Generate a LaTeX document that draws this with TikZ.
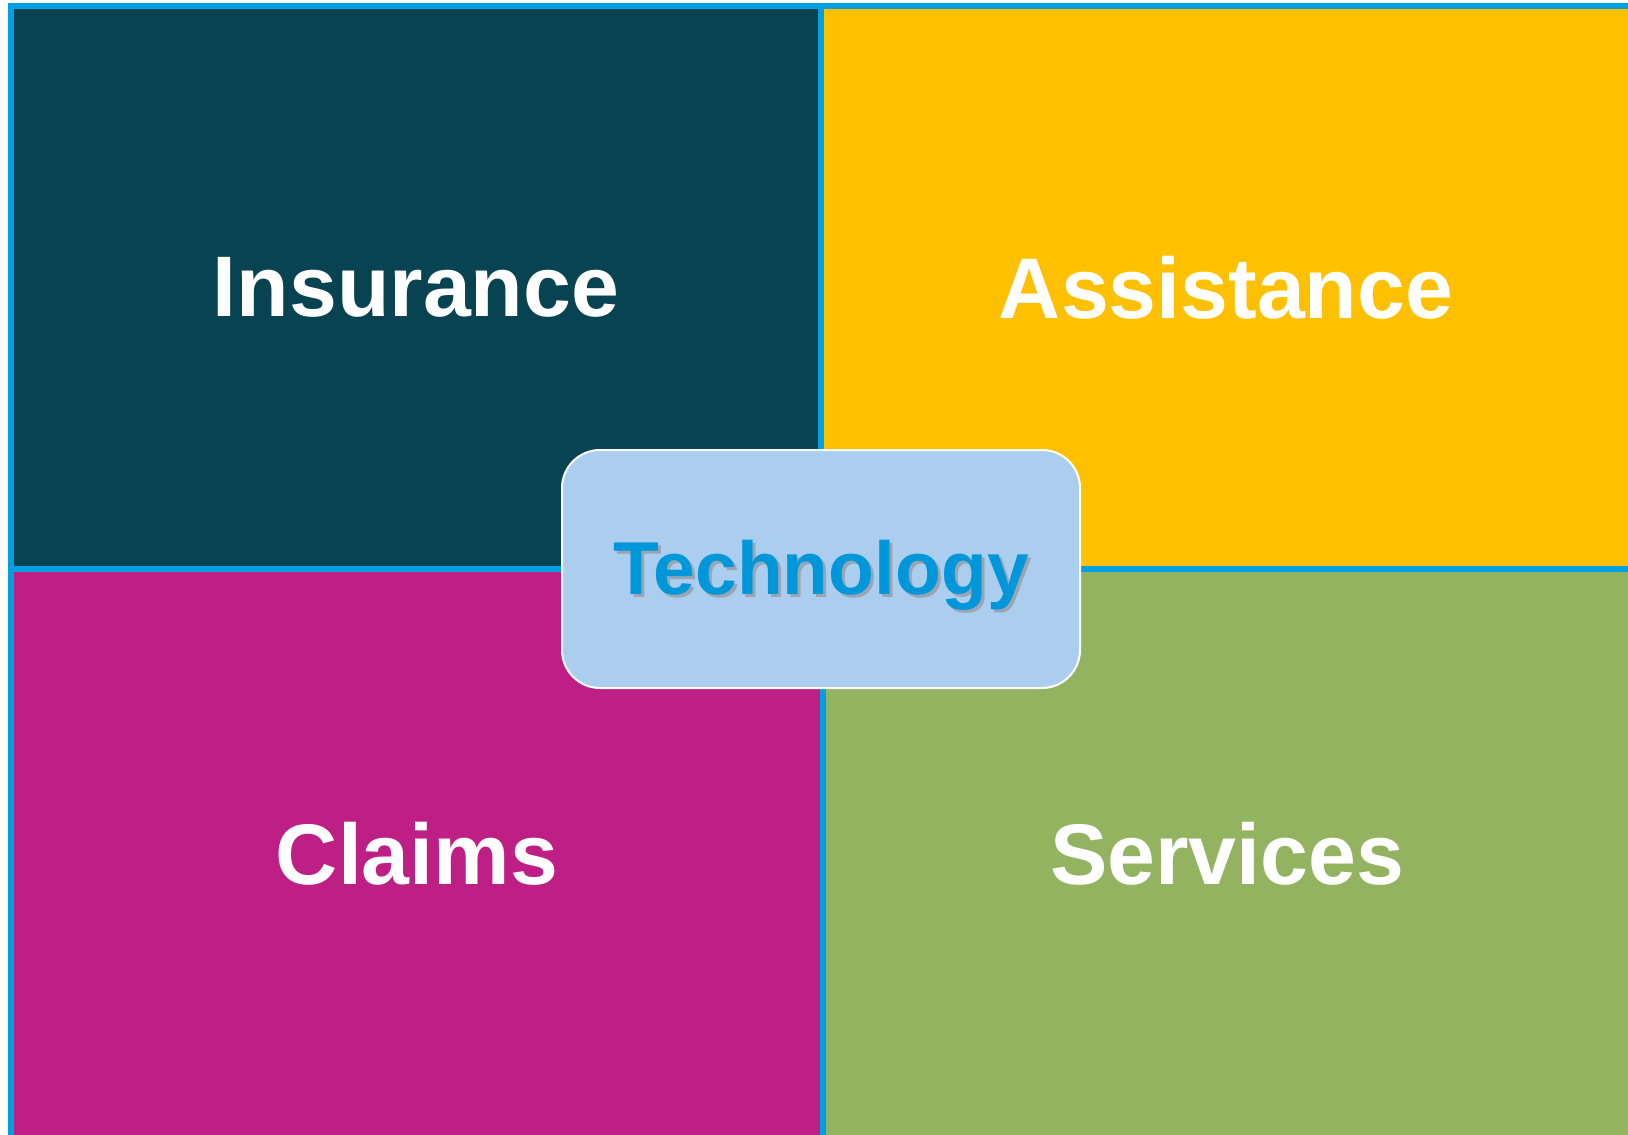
\documentclass[tikz,border=0pt]{standalone}
\usepackage{fontspec}
\setmainfont{Liberation Sans}
\definecolor{edgeblue}{RGB}{0,160,227}
\definecolor{insc}{RGB}{7,67,81}
\definecolor{assc}{RGB}{255,192,0}
\definecolor{clac}{RGB}{189,31,132}
\definecolor{serc}{RGB}{147,179,96}
\definecolor{techfill}{RGB}{171,206,239}
\definecolor{techtext}{RGB}{0,150,218}
\begin{document}
\begin{tikzpicture}[x=1pt,y=-1pt,
  quad/.style={draw=none,inner sep=0pt,outer sep=0pt,text=white,
    font=\fontsize{86}{90}\selectfont\bfseries},
  techbox/.style={draw=white,line width=2pt,fill=techfill,rounded corners=38pt,
    minimum width=518pt,minimum height=238pt,inner sep=0pt},
  techlabel/.style={font=\fontsize{75}{80}\selectfont\bfseries,anchor=base,inner sep=0pt}]
\useasboundingbox (0,0) rectangle (1628,1135);
\fill[white] (0,0) rectangle (1628,1135);
\fill[edgeblue] (8,3) rectangle (1628,1135);
\node[quad,fill=insc,minimum width=804pt,minimum height=557pt] (ins) at (416,287.5) {Insurance};
\node[quad,fill=assc,minimum width=804pt,minimum height=557pt] (ass) at (1226,287.5) {Assistance};
\node[quad,fill=clac,minimum width=806pt,minimum height=563pt] (cla) at (417,853.5) {Claims};
\node[quad,fill=serc,minimum width=802pt,minimum height=563pt] (ser) at (1227,853.5) {Services};
\node[techbox] (tech) at (821,569) {};
\node[techlabel,text=black!45,opacity=0.6] (techshadow) at (824,597) {Technology};
\node[techlabel,text=techtext] (techtxt) at (821,594) {Technology};
\end{tikzpicture}
\end{document}
